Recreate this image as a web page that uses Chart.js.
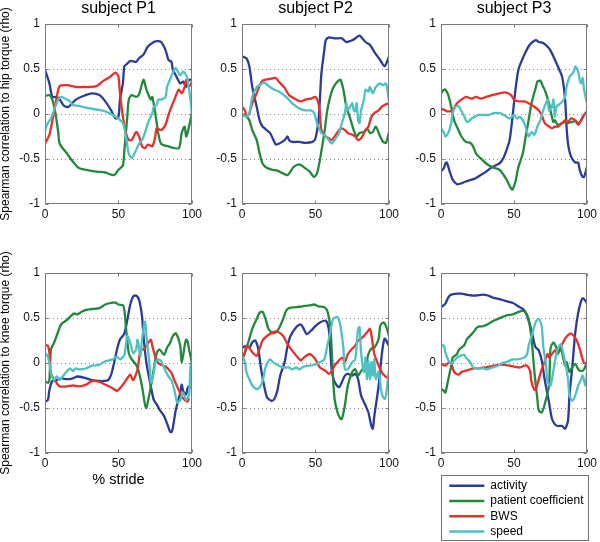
<!DOCTYPE html>
<html><head><meta charset="utf-8">
<script src="https://cdn.jsdelivr.net/npm/chart.js@4.4.0/dist/chart.umd.min.js"></script>
<style>
html,body{margin:0;padding:0;background:#fff;}
body{width:600px;height:542px;position:relative;overflow:hidden;}
canvas.pane{position:absolute;}
#legwrap{position:absolute;left:441px;top:475px;width:146px;height:64px;border:1px solid #707070;overflow:hidden;background:#fff;}
#legwrap canvas{position:absolute;left:0;top:0;}
</style></head><body>
<canvas class="pane" id="c0"></canvas>
<canvas class="pane" id="c1"></canvas>
<canvas class="pane" id="c2"></canvas>
<canvas class="pane" id="c3"></canvas>
<canvas class="pane" id="c4"></canvas>
<canvas class="pane" id="c5"></canvas>
<div id="legwrap"><canvas id="cl"></canvas></div>
<script>
// ---------- labels / ticks ----------
const seriesNames = ['activity', 'patient coefficient', 'BWS', 'speed'];
const seriesColors = ['#2b3c97', '#22893b', '#e6302c', '#4fc1c3'];
const subjects = ['subject P1', 'subject P2', 'subject P3'];
const yTitles = ['Spearman correlation to hip torque (rho)', 'Spearman correlation to knee torque (rho)'];
const xTitle = '% stride';
const xTicks = [0, 50, 100];
const yTicks = [-1, -0.5, 0, 0.5, 1];

// ---------- data: [% stride, rho] ----------
// hip torque, subject P1
const hipP1_activity = [[0,.49],[3,.34],[5,.19],[8,.19],[10,.16],[13,.09],[16,.08],[18,.11],[21,.16],[26,.2],[32,.23],[37,.21],[41,.14],[45,.04],[48,-.05],[50,-.03],[51,.16],[53,.34],[54,.53],[56,.56],[58,.59],[62,.58],[64,.62],[67,.66],[70,.75],[73,.79],[76,.81],[79,.8],[82,.71],[84,.6],[86,.58],[87,.49],[89,.43],[92,.34],[94,.36],[96,.3],[98,.38],[100,.38]];
const hipP1_patient = [[0,.2],[3,.21],[5,.16],[7,.02],[9,-.2],[10,-.33],[15,-.44],[19,-.53],[23,-.6],[28,-.62],[35,-.64],[41,-.65],[47,-.68],[50,-.62],[53,-.57],[54,-.4],[56,-.03],[57,.16],[59,.21],[62,.19],[64,.22],[67,.38],[69,.27],[72,.16],[73,.19],[75,.01],[77,-.21],[79,-.33],[84,-.36],[91,-.38],[93,-.21],[95,-.14],[96,-.25],[97,-.21],[100,.01]];
const hipP1_bws = [[0,-.33],[3,-.23],[6,.01],[8,.19],[10,.31],[15,.32],[21,.3],[26,.3],[30,.3],[35,.31],[39,.36],[44,.41],[48,.46],[50,.41],[51,.23],[53,-.03],[55,-.21],[57,-.29],[59,-.29],[62,-.2],[64,-.25],[66,-.36],[68,-.38],[70,-.34],[73,-.36],[75,-.25],[76,-.16],[79,-.18],[82,-.12],[84,-.01],[86,.08],[88,.16],[91,.27],[93,.23],[95,.3],[96,.38],[98,.3],[100,.36]];
const hipP1_speed = [[0,-.18],[2,-.1],[4,-.05],[7,.08],[9,.16],[11,.19],[15,.16],[17,.14],[19,.1],[23,.09],[28,.07],[35,.05],[41,.03],[48,-.03],[53,-.1],[55,-.25],[57,-.44],[59,-.49],[62,-.4],[64,-.33],[66,-.29],[68,-.21],[70,-.1],[73,.01],[74,.08],[76,.1],[77,.16],[79,.16],[82,.19],[83,.3],[85,.38],[87,.46],[89,.51],[92,.43],[94,.47],[96,.43],[97,.38],[99,.16],[100,-.01]];
// hip torque, subject P2
const hipP2_activity = [[0,.64],[3,.62],[5,.53],[7,.3],[10,.08],[12,-.07],[14,-.14],[19,-.21],[23,-.34],[25,-.33],[29,-.29],[31,-.25],[32,-.29],[34,-.31],[39,-.31],[43,-.32],[48,-.31],[50,-.27],[52,-.07],[53,.16],[54,.45],[56,.71],[57,.82],[59,.85],[63,.84],[68,.84],[71,.8],[75,.82],[77,.84],[80,.87],[84,.8],[87,.77],[90,.69],[94,.6],[97,.53],[100,.64]];
const hipP2_patient = [[0,0],[3,-.03],[5,-.07],[7,-.18],[10,-.29],[12,-.44],[14,-.55],[17,-.6],[21,-.62],[24,-.63],[28,-.66],[31,-.68],[33,-.64],[35,-.59],[39,-.56],[42,-.59],[46,-.64],[49,-.7],[51,-.66],[53,-.51],[56,-.21],[58,.04],[60,.19],[62,.29],[65,.36],[67,.38],[69,.27],[71,.08],[74,-.07],[76,-.18],[78,-.25],[80,-.21],[83,-.2],[85,-.16],[87,-.21],[89,-.2],[91,-.14],[94,-.25],[96,-.31],[98,-.32],[100,-.2]];
const hipP2_bws = [[0,.08],[2,.04],[3,-.03],[5,.01],[7,.12],[10,.23],[12,.32],[14,.37],[19,.39],[23,.4],[25,.36],[29,.29],[32,.21],[37,.16],[40,.14],[43,.16],[47,.17],[50,.19],[52,.12],[53,.01],[54,-.18],[57,-.25],[59,-.27],[61,-.29],[63,-.25],[66,-.18],[68,-.16],[70,-.18],[72,-.21],[75,-.23],[77,-.25],[79,-.29],[81,-.27],[84,-.18],[86,-.14],[88,-.03],[90,.01],[93,.04],[95,.08],[97,.1],[100,.12]];
const hipP2_speed = [[0,-.01],[3,-.03],[5,.01],[7,.19],[10,.3],[12,.32],[15,.35],[19,.3],[22,.27],[25,.25],[30,.19],[34,.12],[39,.06],[43,.04],[47,.04],[49,.01],[51,-.1],[53,-.18],[54,-.21],[57,-.25],[59,-.29],[61,-.33],[63,-.29],[66,-.21],[68,-.1],[70,.01],[71,.12],[72,.04],[75,.12],[76,.04],[77,.03],[78,.12],[79,-.07],[80,-.1],[81,.04],[83,.16],[84,.27],[86,.25],[87,.3],[89,.23],[91,.3],[94,.34],[96,.32],[98,.34],[100,.14]];
// hip torque, subject P3
const hipP3_activity = [[0,-.64],[2,-.6],[3,-.55],[4,-.54],[6,-.64],[8,-.73],[11,-.78],[14,-.77],[17,-.75],[21,-.73],[24,-.71],[27,-.68],[31,-.64],[35,-.59],[40,-.55],[42,-.51],[44,-.44],[47,-.29],[49,-.03],[51,.27],[53,.49],[56,.62],[58,.69],[60,.75],[62,.79],[65,.82],[67,.8],[70,.79],[74,.73],[77,.64],[80,.53],[83,.41],[85,.16],[86,-.14],[87,-.33],[89,-.47],[92,-.54],[94,-.54],[95,-.62],[97,-.7],[98,-.7],[100,-.59]];
const hipP3_patient = [[0,.23],[2,.27],[3,.27],[5,.21],[7,.08],[9,-.07],[12,-.18],[14,-.25],[17,-.31],[20,-.32],[22,-.36],[24,-.44],[27,-.49],[31,-.55],[35,-.59],[40,-.62],[43,-.68],[45,-.73],[48,-.83],[49,-.84],[51,-.75],[53,-.59],[56,-.44],[58,-.25],[60,-.07],[62,.12],[65,.3],[66,.36],[68,.37],[70,.3],[71,.27],[74,.12],[75,.04],[77,-.09],[78,-.07],[80,-.12],[83,-.1],[85,-.09],[87,-.1],[89,-.09],[92,-.08],[94,-.1],[96,-.07],[98,-.01],[100,.03]];
const hipP3_bws = [[0,.06],[3,.04],[4,.03],[6,.03],[8,.04],[11,.12],[14,.16],[17,.19],[21,.17],[24,.19],[27,.17],[31,.19],[35,.21],[40,.23],[44,.24],[48,.21],[50,.16],[53,.14],[57,.14],[60,.12],[64,.08],[67,.04],[69,-.01],[71,-.1],[74,-.14],[76,-.16],[78,-.14],[80,-.14],[83,-.1],[85,-.07],[87,-.09],[89,-.05],[92,-.07],[94,-.12],[96,-.07],[98,-.01],[100,.01]];
const hipP3_speed = [[0,-.16],[2,-.21],[3,-.25],[5,-.21],[7,-.1],[8,.01],[10,.08],[12,.09],[14,.03],[16,-.03],[18,-.09],[21,-.05],[23,-.03],[26,-.01],[30,-.01],[33,-.01],[36,.01],[40,.01],[43,-.01],[47,-.05],[50,-.01],[52,-.05],[54,-.03],[57,-.1],[59,-.2],[60,-.25],[62,-.2],[64,-.23],[66,-.14],[68,-.07],[70,.04],[73,.16],[74,.04],[76,.08],[77,.16],[78,-.03],[79,.08],[82,.12],[84,.16],[85,.19],[86,.3],[88,.41],[91,.47],[92,.53],[94,.47],[95,.38],[96,.34],[97,.4],[98,.27],[100,.12]];
// knee torque, subject P1
const kneeP1_activity = [[0,-.43],[2,-.41],[3,-.3],[5,-.2],[8,-.19],[11,-.17],[15,-.18],[19,-.17],[22,-.15],[28,-.17],[32,-.19],[37,-.2],[40,-.2],[43,-.19],[45,-.13],[47,0],[49,.15],[51,.26],[54,.33],[56,.48],[58,.65],[60,.74],[62,.75],[64,.7],[66,.52],[67,.3],[69,0],[72,-.26],[74,-.41],[76,-.46],[78,-.52],[81,-.59],[83,-.67],[85,-.76],[86,-.77],[87,-.72],[89,-.52],[92,-.33],[93,-.24],[94,-.31],[96,-.35],[97,-.28],[98,-.26],[100,-.28]];
const kneeP1_patient = [[0,-.2],[2,-.22],[3,-.19],[4,.15],[6,.22],[7,.26],[9,.35],[11,.43],[15,.48],[18,.53],[20,.55],[22,.54],[25,.57],[28,.59],[32,.6],[37,.61],[41,.65],[46,.67],[48,.67],[50,.65],[53,.64],[54,.59],[55,.41],[57,.11],[59,.04],[62,-.02],[64,-.11],[66,-.26],[68,-.46],[69,-.5],[72,-.26],[74,-.07],[76,.11],[78,.15],[81,.09],[83,.17],[85,.22],[87,.3],[89,.33],[92,.19],[93,0],[95,.19],[96,.26],[97,.24],[98,.15],[100,0]];
const kneeP1_bws = [[0,.2],[2,.19],[3,.11],[4,-.11],[7,-.2],[10,-.26],[15,-.26],[19,-.25],[23,-.26],[28,-.24],[32,-.2],[37,-.21],[41,-.24],[46,-.28],[49,-.31],[51,-.28],[54,-.22],[56,-.17],[58,-.13],[60,-.19],[63,-.07],[65,.15],[67,.15],[69,.19],[72,.26],[73,.19],[75,.07],[77,0],[79,-.02],[82,-.04],[84,-.07],[86,-.11],[88,-.19],[91,-.3],[93,-.37],[95,-.41],[97,-.43],[98,-.39]];
const kneeP1_speed = [[0,.11],[2,.07],[3,0],[4,-.11],[6,-.19],[8,-.15],[10,-.19],[12,-.15],[15,-.09],[17,-.06],[19,-.09],[21,-.06],[23,-.07],[28,-.06],[32,-.03],[37,-.02],[41,.02],[46,.04],[49,.07],[51,.04],[54,.09],[56,.3],[58,.22],[60,.11],[62,.15],[63,.26],[65,.07],[66,.26],[68,.46],[69,.3],[71,0],[72,-.22],[74,-.11],[75,0],[77,.04],[79,.02],[82,-.09],[84,-.15],[86,-.19],[88,-.3],[90,-.44],[92,-.41],[94,-.33],[96,-.41],[98,-.35],[99,-.04],[100,.02]];
// knee torque, subject P2
const kneeP2_activity = [[0,.17],[3,.19],[5,.17],[7,.23],[9,.25],[11,.16],[13,-.07],[15,-.25],[17,-.38],[20,-.42],[22,-.4],[24,-.31],[26,-.14],[29,.01],[31,.19],[33,.3],[37,.4],[40,.43],[42,.38],[44,.32],[47,.36],[50,.41],[53,.45],[57,.47],[59,.38],[60,.16],[61,-.07],[63,-.21],[66,-.27],[68,-.21],[70,-.14],[72,-.12],[75,-.14],[77,-.12],[79,-.18],[81,-.36],[84,-.47],[86,-.55],[88,-.7],[89,-.73],[90,-.59],[93,-.25],[95,.08],[97,.27],[100,.19]];
const kneeP2_patient = [[0,.03],[3,.16],[5,.27],[7,.38],[10,.49],[12,.56],[14,.57],[16,.49],[18,.38],[21,.33],[23,.34],[25,.38],[28,.49],[30,.58],[32,.61],[37,.62],[41,.63],[46,.64],[49,.65],[52,.63],[56,.62],[58,.58],[60,.41],[61,.16],[62,-.18],[63,-.4],[65,-.55],[67,-.62],[68,-.62],[70,-.47],[72,-.25],[75,-.1],[77,-.07],[79,-.14],[81,-.09],[84,-.03],[86,.1],[88,.16],[90,.17],[93,.27],[94,.41],[96,.45],[98,.41],[100,.3]];
const kneeP2_bws = [[0,.04],[2,.12],[3,.19],[5,.17],[7,.12],[10,.08],[12,.16],[14,.25],[17,.3],[21,.34],[24,.35],[28,.3],[31,.21],[34,.14],[38,.06],[40,.03],[42,.06],[46,.1],[49,.06],[51,.01],[53,-.05],[57,-.09],[59,-.12],[61,-.09],[63,-.03],[66,.03],[68,.06],[70,.01],[72,.1],[75,.16],[77,.19],[79,.25],[81,.27],[84,.32],[86,.36],[87,.38],[88,.32],[90,.1],[93,-.03],[95,-.1],[97,-.14],[100,-.18]];
const kneeP2_speed = [[0,.08],[2,.01],[3,-.1],[5,-.18],[7,-.25],[10,-.29],[12,-.27],[14,-.2],[16,-.05],[19,.04],[21,.01],[23,-.01],[25,-.03],[28,-.05],[32,-.05],[34,-.07],[37,-.05],[39,-.07],[42,-.04],[46,-.03],[49,-.02],[51,-.01],[53,.01],[56,.04],[58,.19],[60,.34],[62,.49],[65,.51],[67,.41],[69,.16],[70,-.07],[72,-.07],[75,.01],[77,.04],[79,.38],[80,.4],[81,.12],[83,-.1],[84,.06],[85,-.18],[86,.03],[87,-.18],[88,.01],[89,-.14],[90,.04],[91,-.18],[93,-.09],[94,-.21],[95,-.33],[97,-.4],[98,-.36],[100,-.07]];
// knee torque, subject P3
const kneeP3_activity = [[0,.62],[3,.66],[5,.73],[7,.76],[11,.77],[14,.77],[17,.76],[21,.75],[24,.75],[29,.76],[32,.75],[35,.73],[40,.71],[44,.69],[49,.67],[52,.64],[56,.6],[58,.56],[60,.47],[62,.36],[64,.21],[65,.17],[67,.14],[69,.03],[71,-.18],[74,-.44],[76,-.62],[78,-.68],[80,-.7],[83,-.7],[85,-.73],[87,-.64],[88,-.36],[90,-.03],[92,.34],[94,.56],[96,.69],[97,.72],[99,.69],[100,.66]];
const kneeP3_patient = [[0,-.29],[2,-.31],[3,-.33],[5,-.18],[7,-.03],[8,.06],[11,.1],[12,.14],[14,.17],[16,.2],[18,.27],[21,.32],[23,.36],[25,.4],[29,.41],[32,.43],[35,.46],[39,.49],[42,.51],[45,.53],[49,.54],[52,.56],[56,.58],[58,.56],[60,.49],[62,.27],[64,-.1],[66,-.4],[67,-.53],[69,-.55],[71,-.46],[74,-.25],[75,.16],[77,.23],[79,.17],[80,.1],[82,.16],[84,.04],[85,-.03],[86,.01],[88,-.1],[89,-.07],[92,-.01],[94,-.07],[96,-.09],[98,-.07],[100,.01]];
const kneeP3_bws = [[0,-.01],[3,-.03],[5,0],[7,-.01],[9,-.1],[12,-.13],[14,-.1],[16,-.09],[20,-.07],[23,-.06],[26,-.06],[30,-.05],[33,-.04],[36,-.03],[40,-.02],[43,-.02],[47,-.03],[50,-.04],[54,-.05],[57,-.03],[59,-.03],[61,-.09],[62,-.21],[64,-.3],[65,-.29],[67,-.18],[69,-.07],[71,.01],[73,.1],[74,.06],[76,.1],[78,.14],[79,.12],[81,.17],[83,.21],[85,.27],[87,.31],[89,.33],[91,.3],[93,.25],[95,.16],[97,.04],[98,0],[100,0]];
const kneeP3_speed = [[0,.2],[2,.19],[3,.12],[5,.03],[7,-.01],[8,.01],[11,.06],[13,.08],[16,.09],[17,.06],[20,.01],[22,-.05],[25,-.06],[29,-.06],[32,-.07],[35,-.05],[39,-.03],[42,0],[45,.01],[49,.04],[52,.04],[55,.05],[57,.06],[59,.1],[60,.19],[62,.3],[64,.41],[65,.46],[67,.49],[69,.41],[70,.19],[72,-.03],[73,-.21],[75,-.25],[76,-.18],[78,.01],[80,.16],[82,.21],[83,.16],[85,.01],[87,-.18],[88,-.36],[90,-.42],[92,-.36],[94,-.25],[96,-.18],[97,-.14],[99,-.25],[100,-.09]];

const panels = [
  [hipP1_activity, hipP1_patient, hipP1_bws, hipP1_speed],
  [hipP2_activity, hipP2_patient, hipP2_bws, hipP2_speed],
  [hipP3_activity, hipP3_patient, hipP3_bws, hipP3_speed],
  [kneeP1_activity, kneeP1_patient, kneeP1_bws, kneeP1_speed],
  [kneeP2_activity, kneeP2_patient, kneeP2_bws, kneeP2_speed],
  [kneeP3_activity, kneeP3_patient, kneeP3_bws, kneeP3_speed]
];

// ---------- layout ----------
const FONT = "'Liberation Sans', Arial, Helvetica, sans-serif";
const colLeft = [0, 197, 396];
const colWidth = [205, 205, 204];
const plotRight = [193, 391, 589];
const AXW = 45;

const boxPlugin = {
  id: 'matlabBox',
  afterDatasetsDraw(chart) {
    const {ctx, chartArea: a, scales: {x, y}} = chart;
    const L = Math.round(a.left) + 0.5, R = Math.round(a.right) - 0.5;
    const T = Math.round(a.top) + 0.5, B = Math.round(a.bottom) - 0.5;
    ctx.save();
    ctx.strokeStyle = '#7a7a7a';
    ctx.lineWidth = 1;
    ctx.strokeRect(L, T, R - L, B - T);
    ctx.beginPath();
    xTicks.forEach(v => {
      const px = Math.round(x.getPixelForValue(v)) + 0.5;
      ctx.moveTo(px, B); ctx.lineTo(px, B - 3);
      ctx.moveTo(px, T); ctx.lineTo(px, T + 3);
    });
    yTicks.forEach(v => {
      const py = Math.round(y.getPixelForValue(v)) + 0.5;
      ctx.moveTo(L, py); ctx.lineTo(L + 3, py);
      ctx.moveTo(R, py); ctx.lineTo(R - 3, py);
    });
    ctx.stroke();
    ctx.restore();
  }
};

function makePanel(idx) {
  const row = idx < 3 ? 0 : 1;
  const col = idx % 3;
  const cv = document.getElementById('c' + idx);
  const xAxisH = (row === 1 && col === 0) ? 36 : 28;
  const topPad = row === 0 ? 0 : 33;
  const top = row === 0 ? 0 : 240;
  const H = (row === 0 ? 24 : 33) + 180 + xAxisH;
  const W = colWidth[col];
  cv.width = W; cv.height = H;
  cv.style.left = colLeft[col] + 'px';
  cv.style.top = top + 'px';
  new Chart(cv, {
    type: 'line',
    data: {
      datasets: panels[idx].map((pts, i) => ({
        label: seriesNames[i],
        data: pts.map(p => ({x: p[0], y: p[1]})),
        borderColor: seriesColors[i],
        backgroundColor: seriesColors[i],
        borderWidth: 2.3,
        pointRadius: 0,
        tension: 0.25,
        fill: false,
        order: 3 - i
      }))
    },
    options: {
      responsive: false,
      animation: false,
      events: [],
      layout: {padding: {left: 0, right: colLeft[col] + W - plotRight[col], top: topPad, bottom: 0}},
      plugins: {
        legend: {display: false},
        tooltip: {enabled: false},
        title: {
          display: row === 0, text: subjects[col], fullSize: false,
          font: {family: FONT, size: 16, lineHeight: 1.1, weight: 'normal'},
          color: '#000', padding: {top: 0, bottom: 6.4}
        }
      },
      scales: {
        x: {
          type: 'linear', min: 0, max: 100,
          afterBuildTicks: s => { s.ticks = xTicks.map(v => ({value: v})); },
          afterFit: s => { s.height = xAxisH; },
          grid: {display: false, drawTicks: false},
          border: {display: false},
          ticks: {font: {family: FONT, size: 12}, color: '#111', padding: 3, maxRotation: 0, autoSkip: false, callback: v => String(v)},
          title: {display: row === 1 && col === 0, text: xTitle, font: {family: FONT, size: 14.5}, color: '#000', padding: {top: 0, bottom: 0}}
        },
        y: {
          type: 'linear', min: -1, max: 1,
          afterBuildTicks: s => { s.ticks = yTicks.map(v => ({value: v})); },
          afterFit: s => { s.width = AXW; },
          grid: {
            drawTicks: false, lineWidth: 1,
            color: c => (c.tick && Math.abs(c.tick.value) < 0.99) ? '#8a8a8a' : 'rgba(0,0,0,0)'
          },
          border: {display: false, dash: [1, 3]},
          ticks: {font: {family: FONT, size: 12}, color: '#111', padding: 5, autoSkip: false, callback: v => String(v)},
          title: {display: col === 0, text: yTitles[row], font: {family: FONT, size: 12, lineHeight: 0.92}, color: '#000', padding: {top: 0, bottom: 0}}
        }
      }
    },
    plugins: [boxPlugin]
  });
}
for (let i = 0; i < 6; i++) makePanel(i);

// ---------- legend ----------
const lg = document.getElementById('cl');
lg.width = 300; lg.height = 90;
new Chart(lg, {
  type: 'line',
  data: {datasets: seriesNames.map((n, i) => ({label: n, data: [], borderColor: seriesColors[i], backgroundColor: seriesColors[i], borderWidth: 2.5}))},
  options: {
    responsive: false, animation: false, events: [],
    layout: {padding: {left: 4, top: 0.4, right: 0, bottom: 0}},
    scales: {x: {display: false}, y: {display: false}},
    plugins: {
      tooltip: {enabled: false},
      legend: {
        display: true, position: 'left', align: 'start',
        labels: {usePointStyle: true, pointStyle: 'line', pointStyleWidth: 35, padding: 3.3, font: {family: FONT, size: 12}, color: '#000'}
      }
    }
  }
});
</script>
</body></html>
